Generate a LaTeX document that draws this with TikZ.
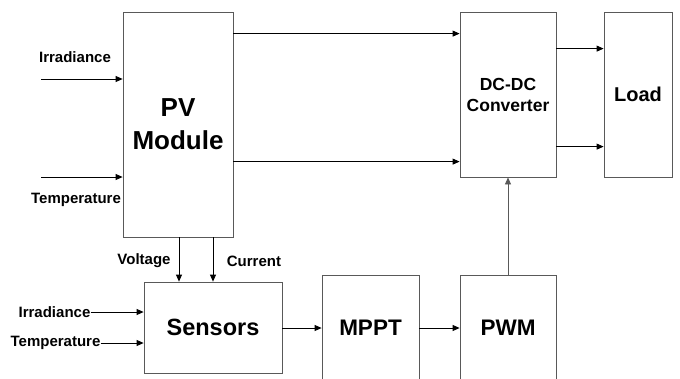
\documentclass[tikz,border=0pt]{standalone}
\usepackage{fontspec}
\setmainfont{Liberation Sans}
\usetikzlibrary{positioning, arrows.meta, calc}

\newcommand{\fsz}[2]{\fontsize{#1}{#2}\selectfont\bfseries}

\begin{document}
\begin{tikzpicture}[x=1pt, y=-1pt, >={Triangle[length=7pt, width=6pt]},
  block/.style={draw=black!65, line width=0.8pt, align=center, inner sep=0pt},
  arr/.style={->, line width=0.8pt},
  lbl/.style={font=\fsz{15}{17}, inner sep=0pt}]

\useasboundingbox (0,0) rectangle (680,378);
\clip (0,0) rectangle (680,378);

% --- Main power path ---
\node[block, minimum width=110pt, minimum height=225pt, font=\fsz{26}{33}] (pv)
  at (178, 124.5) {PV\\Module};
\node[block, minimum width=96pt, minimum height=165pt, font=\fsz{17.5}{21}] (dcdc)
  at (508, 94.5) {DC-DC\\Converter};
\node[block, minimum width=68pt, minimum height=165pt, font=\fsz{20}{23}] (load)
  at (638, 94.5) {Load};

\draw[arr] ([yshift=-22pt]pv.north east) -- ([yshift=-22pt]dcdc.north west);
\draw[arr] ([yshift=-150pt]pv.north east) -- ([yshift=-150pt]dcdc.north west);
\draw[arr] ([yshift=-37pt]dcdc.north east) -- ([yshift=-37pt]load.north west);
\draw[arr] ([yshift=-135pt]dcdc.north east) -- ([yshift=-135pt]load.north west);

% PV inputs
\coordinate (irrin) at (41, 79);
\coordinate (tempin) at (41, 177);
\draw[arr] (irrin) -- (irrin -| pv.west);
\draw[arr] (tempin) -- (tempin -| pv.west);
\node[lbl] (irrlbl) at (75, 57) {Irradiance};
\node[lbl] (templbl) at (76, 200) {Temperature};

% --- Control path ---
\node[block, minimum width=138pt, minimum height=91pt, font=\fsz{23.5}{27}] (sens)
  at (213, 327.5) {Sensors};
\node[block, minimum width=97pt, minimum height=106pt, font=\fsz{22.5}{26}] (mppt)
  at (370.5, 328) {MPPT};
\node[block, minimum width=96pt, minimum height=106pt, font=\fsz{22.5}{26}] (pwm)
  at (508, 328) {PWM};

\coordinate (vtap) at ([xshift=-34pt]sens.north);
\draw[arr] (pv.south -| vtap) -- (vtap);
\draw[arr] (pv.south -| sens.north) -- (sens.north);
\node[lbl] (vlbl) at (144, 261) {Voltage};
\node[lbl] (clbl) at (254, 261) {Current};

% Sensor inputs
\node[lbl] (sirr) at (54.5, 312) {Irradiance};
\node[lbl] (stemp) at (55.5, 343) {Temperature};
\draw[arr] (sirr.east) -- (sirr.east -| sens.west);
\draw[arr] (stemp.east) -- (stemp.east -| sens.west);

\draw[arr] (sens.east |- mppt.west) -- (mppt.west);
\draw[arr] (mppt.east) -- (pwm.west);
\draw[arr, draw=black!65, fill=black] (pwm.north) -- (dcdc.south);

\end{tikzpicture}
\end{document}
